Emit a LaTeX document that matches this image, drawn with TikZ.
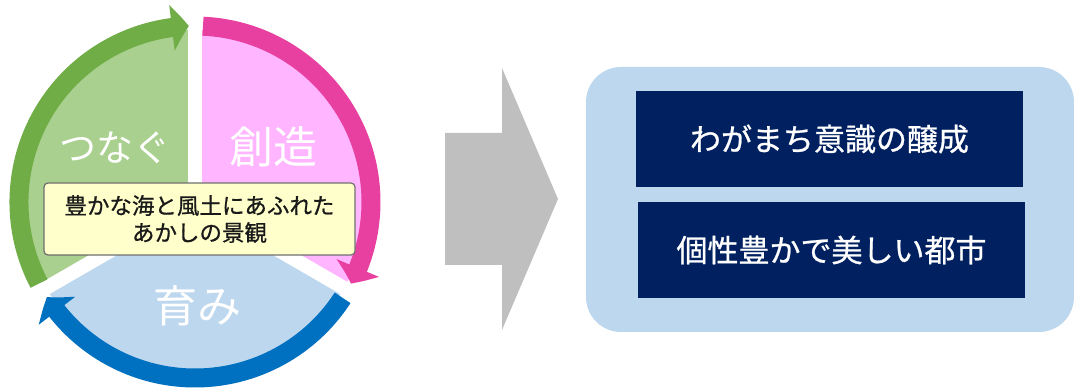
\documentclass[tikz,border=0pt]{standalone}
\usepackage{fontspec}
\newfontfamily\cjk{Noto Sans CJK JP}
\newfontfamily\cjkm[FakeBold=0.8]{Noto Sans CJK JP}
\usetikzlibrary{arrows.meta,bending}
\definecolor{gArc}{HTML}{70AD47}
\definecolor{gFill}{HTML}{A9D08E}
\definecolor{pArc}{HTML}{E840A0}
\definecolor{pFill}{HTML}{FFB5FF}
\definecolor{bArc}{HTML}{0070C0}
\definecolor{bFill}{HTML}{BDD7EE}
\definecolor{arrowGray}{HTML}{BFBFBF}
\definecolor{navy}{HTML}{002060}
\definecolor{boxFill}{HTML}{FFFFCC}
\definecolor{boxLine}{HTML}{6F6F6F}
\begin{document}
\begin{tikzpicture}[x=1pt,y=1pt,
  cyc/.style={line width=19pt},
  tipx/.style={-{Triangle[length=17pt,width=45pt,bend]}},
  seclabel/.style={text=white,font=\cjk\fontsize{#1}{#1}\selectfont,inner sep=0pt},
  navybox/.style={fill=navy,text=white,minimum width=387pt,minimum height=96pt,inner sep=0pt,font=\cjkm\fontsize{31}{36}\selectfont},
  gap/.style={white,line width=14pt}]
\useasboundingbox (0,0) rectangle (1074,391);
\coordinate (C) at (195,189);
% sectors
\fill[gFill] (C) -- ++(90:172) arc[start angle=90,end angle=210,radius=172] -- cycle;
\fill[pFill] (C) -- ++(-30:172) arc[start angle=-30,end angle=90,radius=172] -- cycle;
\fill[bFill] (C) -- ++(210:172) arc[start angle=210,end angle=330,radius=172] -- cycle;
% gaps
\draw[gap] (C) -- ++(90:200);
\draw[gap] (C) -- ++(-30:200);
\draw[gap] (C) -- ++(210:200);
% arcs
\draw[cyc,gArc,tipx] (C) ++(207.6:176) arc[start angle=207.6,end angle=92,radius=176];
\draw[cyc,pArc,tipx] (C) ++(87.4:176) arc[start angle=87.4,end angle=-27.6,radius=176];
\draw[cyc,bArc,tipx] (C) ++(-33:176) arc[start angle=-33,end angle=-147.3,radius=176];
% labels
\node[seclabel=37] (tsunagu) at (115,243) {つなぐ};
\node[seclabel=44] (souzou) at (273,244) {創造};
\node[seclabel=44] (hagukumi) at (197,85) {育み};
% center box
\node[fill=boxFill,draw=boxLine,line width=1.2pt,rounded corners=4pt,minimum width=311pt,minimum height=72pt,inner sep=0pt,align=center,font=\cjkm\fontsize{22.5}{27}\selectfont,text=black!90] (scene) at (199.5,172) {豊かな海と風土にあふれた\\あかしの景観};
% big gray arrow
\fill[arrowGray] (445,258) -- (502,258) -- (502,323) -- (558,192) -- (502,61) -- (502,126) -- (445,126) -- cycle;
% right panel
\node[fill=bFill,rounded corners=35pt,minimum width=488pt,minimum height=265pt,inner sep=0pt] (panel) at (830,191.5) {};
\node[navybox] (box1) at (829.5,252) {わがまち意識の醸成};
\node[navybox] (box2) at (831.5,141) {個性豊かで美しい都市};
\end{tikzpicture}
\end{document}
